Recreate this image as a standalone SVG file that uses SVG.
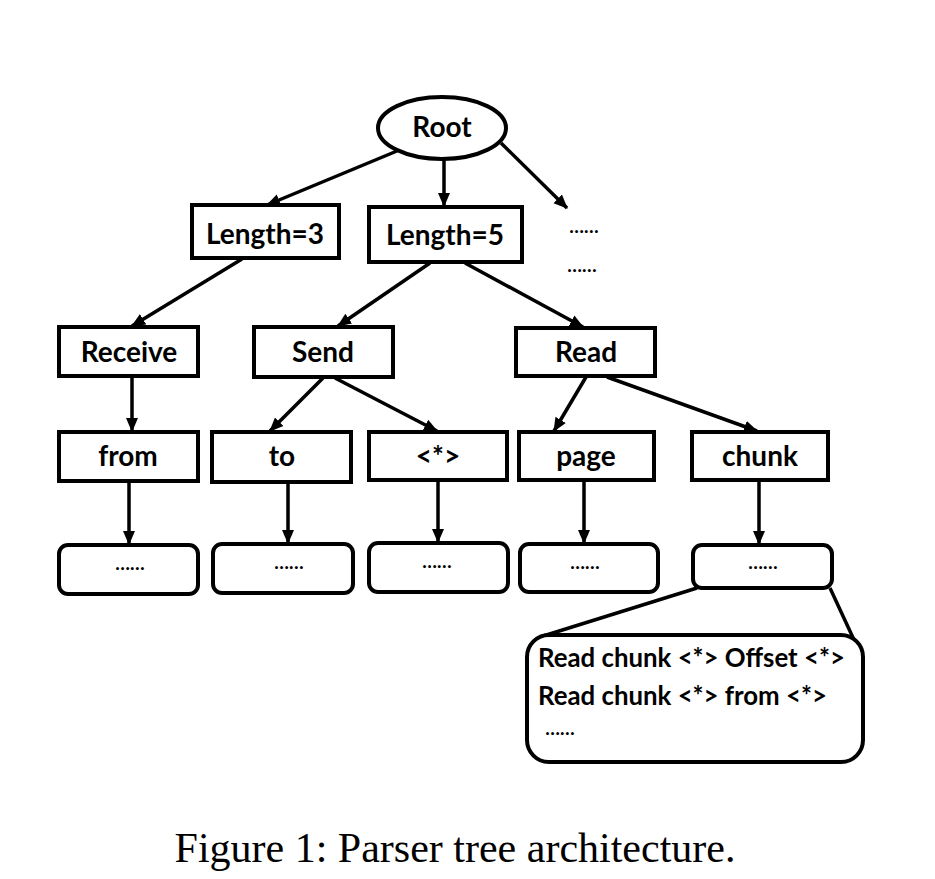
<svg xmlns="http://www.w3.org/2000/svg" width="935" height="879" viewBox="0 0 935 879">
<style>
.box{fill:#fff;stroke:#000;stroke-width:4}
.lbl{font-family:Lato,"Open Sans",sans-serif;font-weight:bold;font-size:28px;fill:#000;text-anchor:middle}
.dots{font-family:Lato,"Open Sans",sans-serif;font-weight:bold;font-size:19px;fill:#000;text-anchor:middle}
.big{font-family:Lato,"Open Sans",sans-serif;font-weight:bold;font-size:25.8px;fill:#000}
.edge{stroke:#000;stroke-width:3.5;fill:none}
.cap{font-family:"Liberation Serif",serif;font-size:42px;fill:#000;text-anchor:middle}
</style>
<defs>
<marker id="arr" markerUnits="userSpaceOnUse" markerWidth="14" markerHeight="14" viewBox="0 0 14 14" refX="13" refY="7" orient="auto">
<path d="M0,1 L14,7 L0,13 z" fill="#000"/>
</marker>
</defs>
<rect width="935" height="879" fill="#fff"/>
<g id="connectors">
<line class="edge" x1="397" y1="151" x2="267" y2="205" marker-end="url(#arr)"/>
<line class="edge" x1="444" y1="160" x2="444" y2="206" marker-end="url(#arr)"/>
<line class="edge" x1="501" y1="143" x2="567" y2="208" marker-end="url(#arr)"/>
<line class="edge" x1="242" y1="259" x2="132" y2="326" marker-end="url(#arr)"/>
<line class="edge" x1="430" y1="263" x2="338" y2="326" marker-end="url(#arr)"/>
<line class="edge" x1="465" y1="263" x2="583" y2="327" marker-end="url(#arr)"/>
<line class="edge" x1="132" y1="377" x2="132" y2="431" marker-end="url(#arr)"/>
<line class="edge" x1="323" y1="378" x2="270" y2="431" marker-end="url(#arr)"/>
<line class="edge" x1="335" y1="378" x2="437" y2="431" marker-end="url(#arr)"/>
<line class="edge" x1="586" y1="377" x2="554" y2="431" marker-end="url(#arr)"/>
<line class="edge" x1="607" y1="377" x2="757" y2="431" marker-end="url(#arr)"/>
<line class="edge" x1="129" y1="482" x2="129" y2="544" marker-end="url(#arr)"/>
<line class="edge" x1="288" y1="483" x2="288" y2="543" marker-end="url(#arr)"/>
<line class="edge" x1="438" y1="481" x2="438" y2="542" marker-end="url(#arr)"/>
<line class="edge" x1="584" y1="481" x2="584" y2="543" marker-end="url(#arr)"/>
<line class="edge" x1="759" y1="481" x2="759" y2="544" marker-end="url(#arr)"/>
<line class="edge" x1="697" y1="588" x2="540" y2="637"/>
<line class="edge" x1="830" y1="588" x2="855" y2="642"/>
</g>
<g id="root"><ellipse class="box" cx="442" cy="128" rx="64" ry="31"/><text class="lbl" x="442" y="137">Root</text></g>
<g id="len3"><rect class="box" x="192" y="205" width="147" height="53"/><text class="lbl" x="265" y="244">Length=3</text></g>
<g id="len5"><rect class="box" x="369" y="207" width="153" height="55"/><text class="lbl" x="445" y="245">Length=5</text></g>
<g id="more"><text class="dots" x="584" y="233">……</text><text class="dots" x="582" y="272">……</text></g>
<g id="receive"><rect class="box" x="59" y="327" width="139" height="49"/><text class="lbl" x="129" y="362">Receive</text></g>
<g id="send"><rect class="box" x="254" y="327" width="139" height="50"/><text class="lbl" x="323" y="362">Send</text></g>
<g id="read"><rect class="box" x="516" y="328" width="139" height="48"/><text class="lbl" x="586" y="362">Read</text></g>
<g id="from"><rect class="box" x="59" y="432" width="139" height="49"/><text class="lbl" x="128" y="466">from</text></g>
<g id="to"><rect class="box" x="212" y="432" width="139" height="50"/><text class="lbl" x="282" y="466">to</text></g>
<g id="wild"><rect class="box" x="369" y="432" width="138" height="48"/><text class="lbl" x="438" y="466">&lt;*&gt;</text></g>
<g id="page"><rect class="box" x="519" y="432" width="135" height="48"/><text class="lbl" x="586" y="466">page</text></g>
<g id="chunk"><rect class="box" x="692" y="432" width="136" height="48"/><text class="lbl" x="760" y="466">chunk</text></g>
<g id="leaf1"><rect class="box" x="59" y="545" width="139" height="49" rx="9"/><text class="dots" x="130" y="570">……</text></g>
<g id="leaf2"><rect class="box" x="213" y="544" width="140" height="49" rx="9"/><text class="dots" x="289" y="569">……</text></g>
<g id="leaf3"><rect class="box" x="369" y="543" width="139" height="49" rx="9"/><text class="dots" x="437" y="568">……</text></g>
<g id="leaf4"><rect class="box" x="520" y="544" width="138" height="48" rx="9"/><text class="dots" x="585" y="569">……</text></g>
<g id="leaf5"><rect class="box" x="693" y="545" width="139" height="43" rx="9"/><text class="dots" x="763" y="569">……</text></g>
<g id="detail"><rect class="box" x="527" y="635" width="336" height="127" rx="22"/>
<text class="big" x="538" y="667">Read chunk &lt;*&gt; Offset &lt;*&gt;</text>
<text class="big" x="538" y="705">Read chunk &lt;*&gt; from &lt;*&gt;</text>
<text class="dots" x="560" y="735">……</text></g>
<text class="cap" x="455" y="862">Figure 1: Parser tree architecture.</text>
</svg>
